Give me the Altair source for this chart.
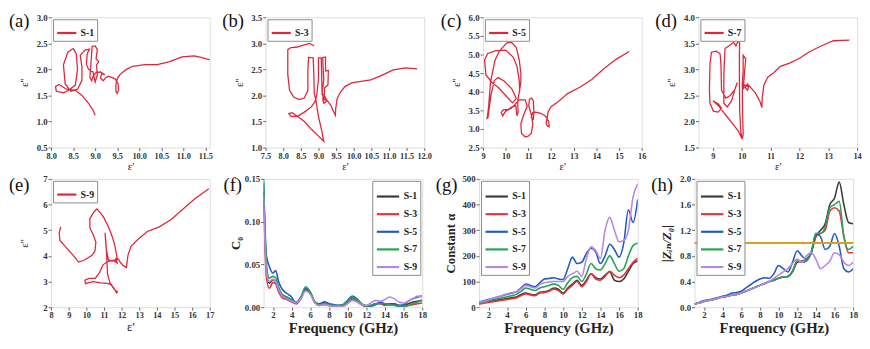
import altair as alt
import pandas as pd

SERIF = "'Liberation Serif', 'Times New Roman', Times, 'DejaVu Serif', serif"
RED = "#e0263a"
SERIES = ["S-1", "S-3", "S-5", "S-7", "S-9"]
COLORS = ["#3a3a3a", "#e8333f", "#1f5cc8", "#24a356", "#b886e6"]

# ---------- Cole-Cole paths (eps', eps'') ----------
A_PATH = [(11.62,2.18),(11.4,2.23),(11.25,2.26),(10.97,2.24),(10.69,2.15),(10.41,2.09),(10.13,2.09),(9.85,2.06),(9.71,2.0),(9.57,1.91),(9.5,1.82),(9.47,1.7),(9.47,1.58),(9.5,1.54),(9.53,1.6),(9.52,1.73),(9.45,1.82),(9.3,1.87),(9.24,1.84),(9.18,1.78),(9.12,1.84),(9.15,1.92),(9.22,1.9),(9.12,1.95),(9.02,1.94),(8.96,1.88),(8.92,1.78),(8.88,1.85),(8.9,2.05),(8.92,2.3),(8.93,2.44),(9.0,2.45),(9.05,2.38),(9.02,2.2),(9.08,2.15),(9.03,2.08),(9.05,1.9),(9.0,1.76),(8.95,1.95),(8.85,2.0),(8.8,2.1),(8.82,2.3),(8.87,2.39),(8.77,2.37),(8.66,2.27),(8.7,2.05),(8.7,1.79),(8.6,1.62),(8.45,1.58),(8.32,1.72),(8.28,2.09),(8.38,2.33),(8.5,2.4),(8.57,2.3),(8.6,2.0),(8.55,1.7),(8.4,1.6),(8.28,1.55),(8.12,1.58),(8.1,1.67),(8.18,1.71),(8.35,1.62),(8.55,1.6),(8.7,1.5),(8.85,1.35),(8.95,1.22),(9.0,1.12)]
B_PATH = [(11.8,2.51),(11.48,2.53),(11.12,2.49),(10.75,2.37),(10.48,2.3),(10.21,2.27),(9.94,2.24),(9.75,2.17),(9.62,2.06),(9.53,1.94),(9.49,1.75),(9.48,1.62),(9.42,1.7),(9.35,1.81),(9.25,1.9),(9.2,1.95),(9.12,1.93),(9.15,1.85),(9.22,1.88),(9.18,1.98),(9.1,2.02),(9.15,2.3),(9.12,2.73),(9.2,2.74),(9.2,2.47),(9.28,2.48),(9.27,2.2),(9.18,2.15),(9.15,1.88),(9.1,2.1),(9.08,2.72),(9.0,2.72),(9.0,2.3),(8.95,2.0),(8.9,1.88),(8.8,1.78),(8.6,1.68),(8.4,1.6),(8.22,1.6),(8.16,1.65),(8.25,1.67),(8.4,1.6),(8.6,1.5),(8.8,1.35),(9.0,1.22),(9.15,1.12),(9.1,1.3),(9.0,1.6),(8.93,1.9),(8.88,2.05),(8.87,2.4),(8.85,2.72),(8.72,2.73),(8.7,2.5),(8.7,2.1),(8.6,1.95),(8.45,1.92),(8.3,1.97),(8.18,2.1),(8.13,2.4),(8.13,2.88),(8.22,2.92),(8.4,2.93),(8.6,2.97),(8.75,3.0),(8.88,2.95)]
C_PATH = [(15.45,5.08),(14.87,4.87),(14.33,4.62),(13.8,4.33),(13.27,4.12),(12.73,3.95),(12.33,3.74),(12.0,3.6),(11.87,3.45),(11.83,3.28),(11.78,3.15),(11.85,3.08),(11.92,3.06),(11.9,3.2),(11.75,3.35),(11.55,3.42),(11.3,3.45),(11.2,3.44),(11.13,3.31),(11.22,3.27),(11.25,3.45),(11.22,3.75),(11.15,3.83),(11.05,3.8),(11.02,3.62),(11.13,3.39),(11.2,3.14),(11.13,2.88),(10.98,2.8),(10.85,2.79),(10.7,2.88),(10.67,3.14),(10.8,3.39),(10.95,3.6),(10.87,3.78),(10.6,3.78),(10.4,3.65),(10.25,3.56),(10.0,3.48),(9.87,3.35),(9.8,3.44),(9.9,3.52),(10.1,3.52),(10.3,3.6),(10.45,3.62),(10.5,3.35),(10.55,3.45),(10.53,3.74),(10.67,4.25),(10.67,4.5),(10.6,4.85),(10.47,5.19),(10.27,5.32),(10.07,5.32),(9.73,5.1),(9.53,4.85),(9.33,4.25),(9.25,3.6),(9.18,3.28),(9.22,3.3),(9.35,3.9),(9.5,4.3),(9.67,4.38),(9.93,4.29),(10.27,4.08),(10.47,3.82),(10.3,3.7),(10.0,3.9),(9.7,4.1),(9.4,4.25),(9.13,4.45),(9.07,4.85),(9.2,5.02),(9.53,5.1),(10.0,5.12),(10.33,4.93),(10.5,4.68),(10.6,4.3),(10.62,4.0)]
D_PATH = [(13.73,3.56),(13.18,3.55),(12.75,3.45),(12.32,3.33),(11.99,3.21),(11.66,3.12),(11.34,3.06),(11.12,2.94),(10.9,2.85),(10.77,2.7),(10.71,2.45),(10.7,2.27),(10.63,2.39),(10.47,2.55),(10.3,2.66),(10.2,2.72),(10.12,2.65),(10.2,2.6),(10.25,2.68),(10.1,2.7),(10.05,2.62),(10.08,2.8),(10.1,2.97),(10.14,3.2),(10.05,3.27),(10.05,3.0),(10.02,2.7),(10.03,2.2),(10.05,1.75),(10.02,1.66),(9.97,1.8),(9.93,2.2),(9.92,2.8),(9.92,3.3),(9.93,3.5),(9.88,3.55),(9.8,3.45),(9.72,3.52),(9.55,3.45),(9.42,3.4),(9.38,2.9),(9.38,2.35),(9.5,2.28),(9.65,2.4),(9.78,2.65),(9.85,2.75),(9.75,2.6),(9.6,2.5),(9.45,2.45),(9.3,2.6),(9.28,3.1),(9.25,3.3),(9.12,3.35),(8.95,3.33),(8.9,3.1),(8.88,2.6),(8.9,2.35),(9.02,2.2),(9.18,2.18),(9.3,2.25),(9.2,2.33),(9.0,2.4),(9.2,2.3),(9.45,2.12),(9.7,1.95),(9.9,1.8),(10.0,1.68)]
E_PATH = [(16.95,6.62),(16.17,6.24),(15.49,5.83),(14.81,5.42),(14.14,5.13),(13.46,4.95),(12.95,4.66),(12.53,4.37),(12.36,4.02),(12.27,3.55),(12.1,3.62),(11.92,3.75),(11.82,3.88),(11.68,3.9),(11.6,3.78),(11.75,3.72),(11.7,3.83),(11.45,3.8),(11.25,3.85),(11.12,4.3),(11.06,4.9),(11.12,4.4),(11.17,3.78),(11.2,3.3),(11.34,2.95),(11.55,2.75),(11.72,2.55),(11.76,2.6),(11.6,2.68),(11.4,2.88),(11.2,2.93),(10.8,2.95),(10.4,3.0),(10.1,2.95),(9.95,2.92),(9.92,3.05),(10.15,3.12),(10.5,3.12),(10.75,3.35),(10.95,3.65),(11.2,3.78),(11.5,3.82),(11.76,3.85),(11.7,4.1),(11.59,4.48),(11.42,4.84),(11.25,5.13),(11.0,5.48),(10.83,5.66),(10.6,5.83),(10.42,5.7),(10.2,5.45),(10.2,5.1),(10.4,4.8),(10.54,4.54),(10.49,4.19),(10.32,4.02),(9.9,3.84),(9.56,3.76),(9.22,4.05),(8.8,4.37),(8.5,4.6),(8.46,4.9),(8.55,5.13)]

# ---------- frequency-domain curves ----------
FREQ = [1, 1.3, 1.6, 2, 2.3, 2.6, 3, 3.5, 4, 4.5, 5, 5.5, 6, 6.5, 7, 7.5, 8, 8.5, 9, 9.5, 10,
        10.5, 11, 11.5, 12, 12.5, 13, 13.5, 14, 14.5, 15, 15.5, 16, 16.5, 17, 17.5, 18]

C0 = {
    "S-1": [0.135,0.045,0.028,0.032,0.03,0.02,0.014,0.011,0.008,0.005,0.011,0.021,0.017,0.006,0.004,0.006,0.004,0.002,0.002,0.003,0.007,0.011,0.008,0.003,0.001,0.002,0.004,0.005,0.003,0.004,0.004,0.002,0.002,0.004,0.006,0.007,0.008],
    "S-3": [0.125,0.035,0.022,0.029,0.027,0.018,0.011,0.009,0.006,0.004,0.01,0.02,0.016,0.005,0.002,0.003,0.002,0.001,0.001,0.002,0.005,0.009,0.007,0.003,0.001,0.002,0.004,0.004,0.002,0.003,0.003,0.002,0.001,0.002,0.003,0.004,0.005],
    "S-5": [0.145,0.06,0.048,0.04,0.043,0.03,0.021,0.016,0.012,0.004,0.012,0.022,0.017,0.006,0.003,0.006,0.004,0.003,0.002,0.003,0.008,0.013,0.01,0.004,0.002,0.001,0.003,0.006,0.004,0.003,0.004,0.002,0.003,0.007,0.01,0.012,0.013],
    "S-7": [0.15,0.05,0.034,0.036,0.034,0.024,0.015,0.012,0.009,0.006,0.012,0.024,0.018,0.006,0.003,0.004,0.003,0.002,0.002,0.003,0.007,0.012,0.009,0.004,0.001,0.002,0.004,0.004,0.004,0.003,0.002,0.001,0.001,0.002,0.004,0.006,0.008],
    "S-9": [0.13,0.042,0.03,0.033,0.03,0.021,0.013,0.01,0.007,0.005,0.01,0.019,0.015,0.005,0.002,0.003,0.002,0.001,0.001,0.001,0.004,0.008,0.006,0.003,0.002,0.005,0.008,0.007,0.009,0.012,0.01,0.006,0.005,0.007,0.01,0.013,0.012],
}
ALPHA = {
    "S-1": [15,18,20,22,24,26,28,31,34,37,40,50,55,50,48,58,60,65,75,70,55,75,90,105,85,105,130,115,110,125,138,105,100,110,140,170,180],
    "S-3": [12,14,16,18,20,22,24,27,30,33,36,45,52,48,45,55,57,62,70,65,52,70,85,100,80,100,130,110,105,120,140,125,115,125,150,175,190],
    "S-5": [20,23,26,30,33,36,40,45,50,55,60,75,90,85,80,95,110,112,115,110,108,150,195,170,175,210,230,215,170,200,245,225,195,250,380,330,420],
    "S-7": [15,18,21,24,27,30,33,37,41,45,50,62,75,70,65,75,80,85,90,85,70,95,115,120,100,130,170,150,145,170,200,170,140,150,200,240,250],
    "S-9": [18,21,24,28,32,36,40,46,52,57,60,72,85,80,75,88,95,98,100,100,100,120,130,140,120,190,235,220,190,300,350,300,255,260,300,430,480],
}
ZRATIO = {
    "S-1": [0.05,0.06,0.07,0.09,0.1,0.11,0.12,0.14,0.16,0.17,0.19,0.2,0.22,0.25,0.28,0.31,0.34,0.37,0.4,0.42,0.45,0.47,0.48,0.55,0.7,0.72,0.75,0.85,1.1,1.2,1.3,1.6,1.7,1.95,1.6,1.32,1.3],
    "S-3": [0.05,0.06,0.07,0.09,0.1,0.11,0.12,0.14,0.16,0.17,0.19,0.2,0.22,0.25,0.28,0.31,0.34,0.37,0.4,0.42,0.45,0.47,0.48,0.56,0.72,0.7,0.72,0.85,1.1,1.15,1.2,1.5,1.55,1.5,1.1,0.85,0.85],
    "S-5": [0.05,0.06,0.08,0.1,0.11,0.12,0.13,0.15,0.17,0.19,0.22,0.23,0.25,0.3,0.35,0.4,0.44,0.46,0.45,0.52,0.65,0.6,0.55,0.7,0.88,0.8,0.75,0.85,1.15,1.1,0.9,0.95,1.15,0.95,0.6,0.55,0.6],
    "S-7": [0.05,0.06,0.07,0.09,0.1,0.11,0.12,0.14,0.16,0.17,0.19,0.2,0.22,0.25,0.28,0.31,0.34,0.37,0.4,0.42,0.45,0.47,0.48,0.56,0.72,0.7,0.73,0.85,1.15,1.15,1.25,1.55,1.6,1.65,1.1,0.9,0.95],
    "S-9": [0.05,0.06,0.07,0.09,0.1,0.11,0.12,0.14,0.16,0.17,0.19,0.2,0.22,0.25,0.28,0.31,0.34,0.37,0.4,0.45,0.5,0.55,0.6,0.68,0.75,0.7,0.8,0.85,0.75,0.6,0.65,0.72,0.85,0.82,0.7,0.65,0.7],
}

W = 162
H1 = 133
H2 = 131

AXIS_STYLE = dict(labelFont=SERIF, labelFontWeight="bold", labelColor="#333",
                  titleFont=SERIF, titleColor="#222", tickColor="#666", tickSize=3,
                  domain=False, grid=False, labelPadding=1, labelFlush=False)


def legend(orient, size):
    return alt.Legend(orient=orient, title=None, offset=2, padding=3,
                      strokeColor="#8a8a8a", fillColor="white",
                      symbolType="stroke", symbolSize=size, symbolStrokeWidth=2.2,
                      labelFont=SERIF, labelFontWeight="bold", labelFontSize=10,
                      labelColor="#222", rowPadding=0, labelOffset=3)


def letter(t, dy):
    return alt.Chart(pd.DataFrame({"t": [t]})).mark_text(
        font=SERIF, fontSize=19, align="right", baseline="middle", color="#111"
    ).encode(text="t:N", x=alt.value(-22), y=alt.value(dy))


def xaxis(values, fmt, title, size, weight, lsize):
    return alt.Axis(values=values, format=fmt, title=title, titleFontSize=size,
                    titleFontWeight=weight, titlePadding=1, labelFontSize=lsize, **AXIS_STYLE)


def yaxis(values, fmt, title, size, weight="normal", style="normal"):
    return alt.Axis(values=values, format=fmt, title=title, titleFontSize=size,
                    titleFontWeight=weight, titleFontStyle=style, labelFontSize=9,
                    minExtent=20, maxExtent=20, titlePadding=2, **AXIS_STYLE)


def cole(tag, name, path, xdom, xticks, xfmt, ydom, yticks, yfmt, h, xt_size, dy):
    df = pd.DataFrame(path, columns=["x", "y"])
    df["i"] = range(len(df))
    df["s"] = name
    line = alt.Chart(df).mark_line(strokeWidth=1.3, clip=True).encode(
        x=alt.X("x:Q", scale=alt.Scale(domain=xdom, nice=False, zero=False),
                axis=xaxis(xticks, xfmt, "ε'", xt_size, "normal", 8.5)),
        y=alt.Y("y:Q", scale=alt.Scale(domain=ydom, nice=False, zero=False),
                axis=yaxis(yticks, yfmt, "ε''", 11)),
        order="i:Q",
        color=alt.Color("s:N", scale=alt.Scale(domain=[name], range=[RED]),
                        legend=legend("top-left", 380)),
    )
    return alt.layer(line, letter(tag, dy)).properties(width=W, height=h)


def freq_panel(tag, data, ydom, yticks, yfmt, ytitle, ysize, ystyle, orient, extra=None):
    rows = []
    for s in SERIES:
        for f, v in zip(FREQ, data[s]):
            rows.append({"f": f, "v": v, "s": s})
    df = pd.DataFrame(rows)
    ench = alt.Y("v:Q", scale=alt.Scale(domain=ydom, nice=False, zero=False),
                 axis=yaxis(yticks, yfmt, ytitle, ysize, "bold", ystyle))
    lines = alt.Chart(df).mark_line(strokeWidth=1.6, interpolate="monotone", clip=True).encode(
        x=alt.X("f:Q", scale=alt.Scale(domain=[1, 18], nice=False, zero=False),
                axis=xaxis(list(range(2, 19, 2)), "d", "Frequency (GHz)", 15, "bold", 9)),
        y=ench,
        color=alt.Color("s:N", scale=alt.Scale(domain=SERIES, range=COLORS),
                        legend=legend(orient, 520)),
    )
    layers = [lines]
    if extra is not None:
        rule = alt.Chart(pd.DataFrame({"v": [extra]})).mark_rule(
            color="#d9a21c", strokeWidth=2).encode(y=ench)
        layers.append(rule)
    layers.append(letter(tag, 6))
    return alt.layer(*layers).properties(width=W, height=H2)


pa = cole("(a)", "S-1", A_PATH, [8.0, 11.6], [8.0, 8.5, 9.0, 9.5, 10.0, 10.5, 11.0, 11.5], ".1f",
          [0.5, 3.0], [0.5, 1.0, 1.5, 2.0, 2.5, 3.0], ".1f", H1, 11, 4)
pb = cole("(b)", "S-3", B_PATH, [7.5, 12.0], [7.5, 8.0, 8.5, 9.0, 9.5, 10.0, 10.5, 11.0, 11.5, 12.0], ".1f",
          [1.0, 3.5], [1.0, 1.5, 2.0, 2.5, 3.0, 3.5], ".1f", H1, 11, 4)
pc = cole("(c)", "S-5", C_PATH, [9, 16], list(range(9, 17)), "d",
          [2.5, 6.0], [2.5, 3.0, 3.5, 4.0, 4.5, 5.0, 5.5, 6.0], ".1f", H1, 11, 4)
pd_ = cole("(d)", "S-7", D_PATH, [8.5, 14], list(range(9, 15)), "d",
           [1.5, 4.0], [1.5, 2.0, 2.5, 3.0, 3.5, 4.0], ".1f", H1, 11, 4)
pe = cole("(e)", "S-9", E_PATH, [8, 17], list(range(8, 18)), "d",
          [2, 7], list(range(2, 8)), "d", H2, 13, 6)

pf = freq_panel("(f)", C0, [0, 0.15], [0, 0.05, 0.10, 0.15], ".2f", "C₀", 13, "normal", "top-right")
pg = freq_panel("(g)", ALPHA, [0, 500], [0, 100, 200, 300, 400, 500], "d", "Constant α", 13, "normal", "top-left")
ph = freq_panel("(h)", ZRATIO, [0, 2.0], [0.0, 0.4, 0.8, 1.2, 1.6, 2.0], ".1f", "|Zᵢₙ/Z₀|", 13, "italic",
                "top-left", extra=1.0)

row1 = alt.hconcat(pa, pb, pc, pd_, spacing=8).resolve_scale(color="independent", x="independent", y="independent")
row2 = alt.hconcat(pe, pf, pg, ph, spacing=8).resolve_scale(color="independent", x="independent", y="independent")

chart = alt.vconcat(row1, row2, spacing=2).resolve_scale(
    color="independent", x="independent", y="independent"
).configure_view(stroke="#707070", strokeWidth=1.5).configure(
    background="white", padding=0, font=SERIF)

chart.save("out.html", embed_options={"renderer": "svg", "actions": False})
